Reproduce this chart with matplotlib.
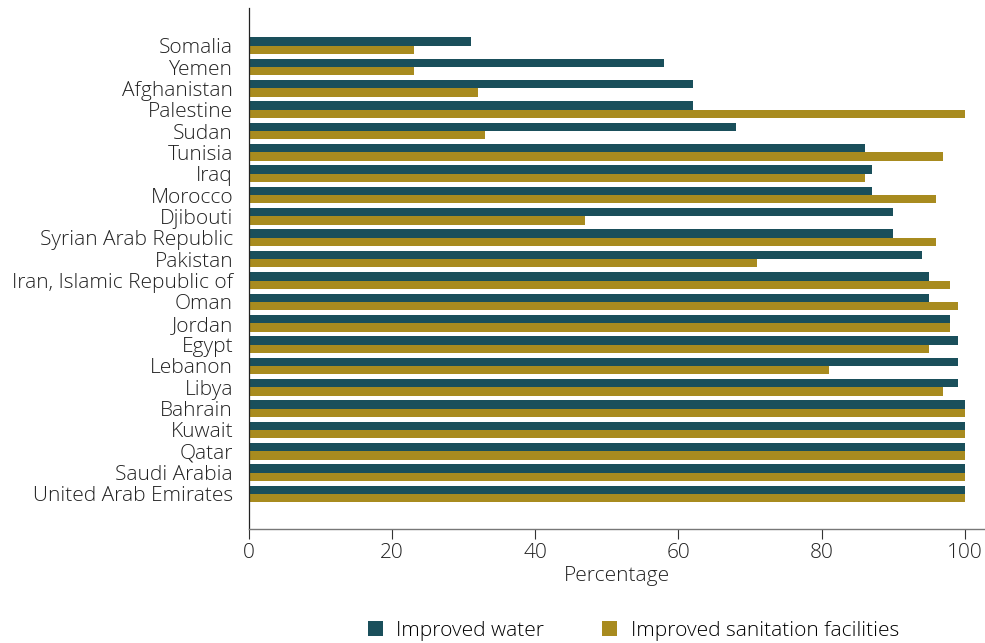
import numpy as np
import matplotlib
matplotlib.use("Agg")
import matplotlib.pyplot as plt
from matplotlib.patches import Patch

plt.rcParams["font.family"] = ["Open Sans", "DejaVu Sans"]
plt.rcParams["font.weight"] = "light"
plt.rcParams["axes.labelweight"] = "light"

countries = [
    "Somalia", "Yemen", "Afghanistan", "Palestine", "Sudan", "Tunisia", "Iraq",
    "Morocco", "Djibouti", "Syrian Arab Republic", "Pakistan",
    "Iran, Islamic Republic of", "Oman", "Jordan", "Egypt", "Lebanon", "Libya",
    "Bahrain", "Kuwait", "Qatar", "Saudi Arabia", "United Arab Emirates",
]
water = [31, 58, 62, 62, 68, 86, 87, 87, 90, 90, 94, 95, 95, 98, 99, 99, 99,
         100, 100, 100, 100, 100]
sanitation = [23, 23, 32, 100, 33, 97, 86, 96, 47, 96, 71, 98, 99, 98, 95, 81, 97,
              100, 100, 100, 100, 100]
xticks = [0, 20, 40, 60, 80, 100]

water_color = "#1a4f5b"
san_color = "#a88b1f"
text_color = "#222222"

fig = plt.figure(figsize=(9.85, 6.43), dpi=100)
# axes box: x 249..985 px, y 8..529 px
ax = fig.add_axes([0.2528, 0.177, 0.747, 0.810])

y = np.arange(len(countries))
h = 0.39
ax.barh(y - h / 2, water, height=h, color=water_color, edgecolor="none")
ax.barh(y + h / 2, sanitation, height=h, color=san_color, edgecolor="none")

ax.set_ylim(len(countries) - 1 + 1.65, -1.75)
ax.set_xlim(0, 102.8)
ax.set_yticks(y)
ax.set_yticklabels(countries, fontsize=15, color=text_color)
ax.set_xticks(xticks)
ax.set_xticklabels([str(t) for t in xticks], fontsize=15, color=text_color)
ax.tick_params(axis="y", length=0, pad=11.5)
ax.tick_params(axis="x", length=7, width=0.8, pad=3, color="#333333")
ax.set_xlabel("Percentage", fontsize=15, color=text_color, labelpad=2,
              fontweight="light")

ax.spines["top"].set_visible(False)
ax.spines["right"].set_visible(False)
ax.spines["left"].set_linewidth(0.9)
ax.spines["left"].set_color("#222222")
ax.spines["bottom"].set_linewidth(1.0)
ax.spines["bottom"].set_color("#777777")

handles = [
    Patch(facecolor=water_color, label="Improved water"),
    Patch(facecolor=san_color, label="Improved sanitation facilities"),
]
fig.legend(handles=handles, loc="center", bbox_to_anchor=(0.643, 0.019),
           ncol=2, frameon=False, fontsize=15, handlelength=0.72, handleheight=0.72,
           columnspacing=2.8, handletextpad=0.65, borderpad=0)

fig.savefig("out.png", dpi=100, facecolor="white")
